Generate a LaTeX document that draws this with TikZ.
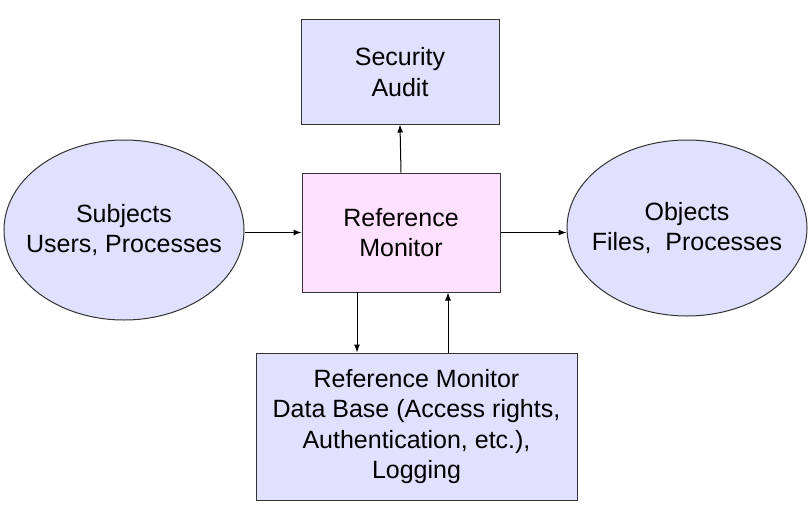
\documentclass[tikz,border=0pt]{standalone}
\usepackage{fontspec}
\setmainfont{Liberation Sans}
\usetikzlibrary{shapes.geometric,arrows.meta}
\definecolor{lavender}{RGB}{224,224,255}
\definecolor{pinkish}{RGB}{255,224,255}

\begin{document}
\begin{tikzpicture}[x=1pt,y=-1pt,>={Latex[length=8pt,width=6pt]},line width=1pt,
	box/.style ={rectangle, draw=black!80, fill=lavender, align=center, inner sep=0pt, font=\fontsize{25}{30.5}\selectfont},
	oval/.style ={ellipse, draw=black!80, fill=lavender, align=center, inner ysep=0pt, inner xsep=-25pt, font=\fontsize{25}{30.5}\selectfont}]
		\useasboundingbox (0,0) rectangle (811,511);
		\node[box, minimum width=198pt, minimum height=104pt] (audit) at (400,72) {Security\\Audit};
		\node[box, fill=pinkish, minimum width=198pt, minimum height=119pt] (rm) at (401,232.5) {Reference\\Monitor};
		\node[box, minimum width=321pt, minimum height=147pt] (db) at (416.5,426.5) {Reference Monitor\\Data Base (Access rights,\\Authentication, etc.),\\Logging};
		\node[oval, minimum width=240pt, minimum height=180pt] (subj) at (124,230) {Subjects\\Users, Processes};
		\node[oval, minimum width=240pt, minimum height=176pt] (obj) at (687,228) {Objects\\Files,\ \ Processes};
		\draw[->] (subj.east |- rm.west) -- (rm.west);
		\draw[->] (rm.east) -- (rm.east -| obj.west);
		\draw[->] (rm.north) -- (audit.south);
		\draw[->] ([xshift=-44pt]rm.south) -- ([xshift=-44pt]rm.south |- db.north);
		\draw[->] ([xshift=47pt]rm.south |- db.north) -- ([xshift=47pt]rm.south);
	\end{tikzpicture}
\end{document}
